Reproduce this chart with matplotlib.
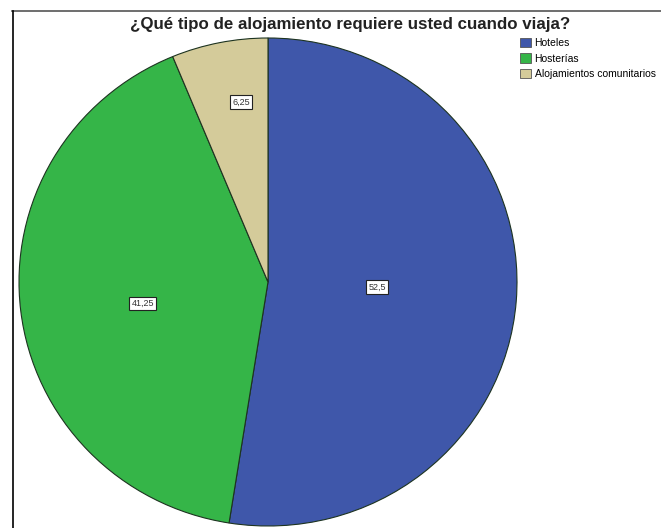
import numpy as np
import matplotlib.pyplot as plt
from matplotlib.patches import Patch
from matplotlib.lines import Line2D

# Data
categories = ['Hoteles', 'Hosterías', 'Alojamientos comunitarios']
values = [52.5, 41.25, 6.25]
value_labels = ['52,5', '41,25', '6,25']
colors = ['#3f57aa', '#35b548', '#d4cb9a']

# where each value box sits inside its slice (radius fraction, angle shift in deg)
label_dist = [0.44, 0.51, 0.745]
label_shift = [1.8, 3.2, -3.0]

W, H = 661, 528
fig = plt.figure(figsize=(W / 100, H / 100), dpi=100)
fig.patch.set_facecolor('white')

# pie axes: centre (268, 282) px, slightly squashed like the original export
cx, cy, rx, ry = 268, 282, 249, 244
ax = fig.add_axes([(cx - rx) / W, (H - cy - ry) / H, 2 * rx / W, 2 * ry / H])
wedges, _ = ax.pie(values, colors=colors, startangle=90, counterclock=False,
                   radius=1.0, wedgeprops=dict(edgecolor='#1d3320', linewidth=0.8))
ax.set_xlim(-1, 1)
ax.set_ylim(-1, 1)
ax.set_aspect('auto')
ax.axis('off')

for w, lab, d, s in zip(wedges, value_labels, label_dist, label_shift):
    ang = np.deg2rad((w.theta1 + w.theta2) / 2 + s)
    ax.text(d * np.cos(ang), d * np.sin(ang), lab, ha='center', va='center',
            fontsize=6.5, family='Liberation Sans', color='#333333',
            bbox=dict(boxstyle='square,pad=0.25', fc='white', ec='#222222', lw=0.8))

# chart frame (top and left edges visible)
fig.add_artist(Line2D([12 / W, 1.0], [1 - 11 / H, 1 - 11 / H], color='#555555', lw=1.2))
fig.add_artist(Line2D([12.5 / W, 12.5 / W], [0, 1 - 11 / H], color='black', lw=1.2))

fig.text(350 / W, 1 - 25 / H, '¿Qué tipo de alojamiento requiere usted cuando viaja?',
         ha='center', va='center', fontsize=12.2, fontweight='bold',
         family='Liberation Sans', color='#222222')

handles = [Patch(facecolor=c, edgecolor='#555555', lw=0.6) for c in colors]
fig.legend(handles, categories, loc='upper left', bbox_to_anchor=(520 / W, 1 - 38 / H),
           frameon=False, prop={'family': 'Liberation Sans', 'size': 7.5},
           handlelength=1.1, handleheight=1.0, handletextpad=0.3, labelspacing=0.5,
           borderpad=0, borderaxespad=0)

fig.savefig('out.png', dpi=100)
